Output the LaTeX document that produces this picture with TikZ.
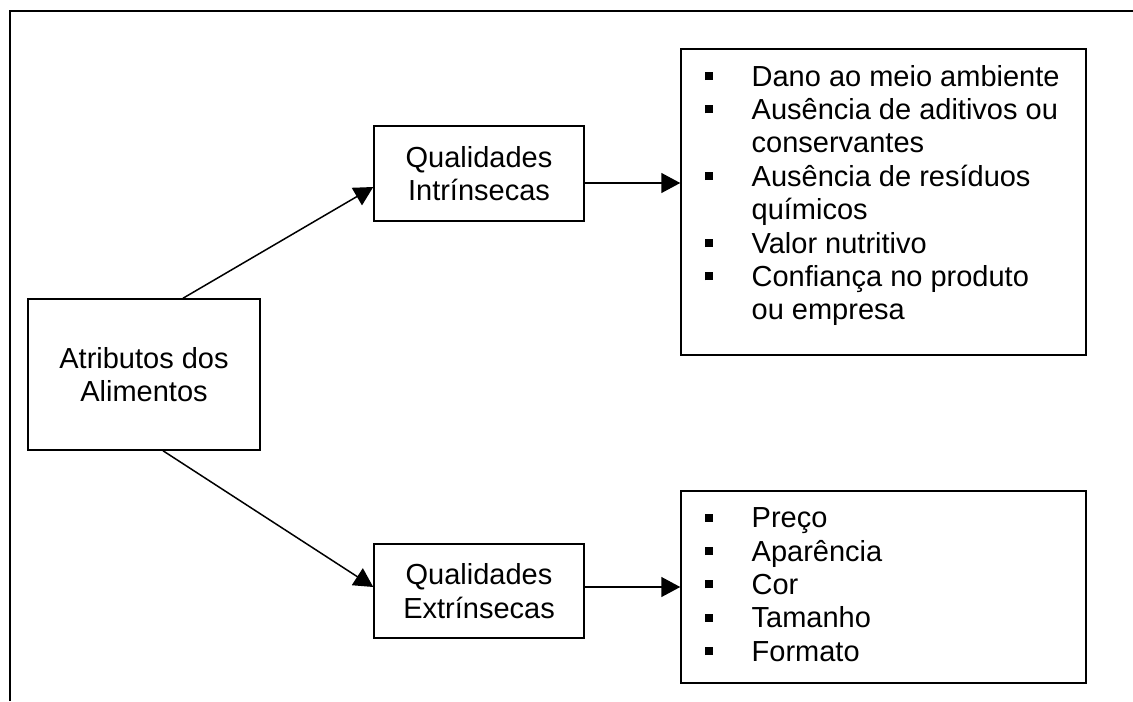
\documentclass[tikz,border=0pt]{standalone}
\usepackage{fontspec}
\setmainfont{Liberation Sans}
\usetikzlibrary{arrows.meta,calc}

\newcommand{\bul}{\rule[3pt]{4pt}{4pt}}

\begin{document}
\begin{tikzpicture}[x=0.5pt,y=-0.5pt,
    caixa/.style={draw,line width=0.75pt,align=center,inner sep=0pt,
      font=\fontsize{14.5}{16.7}\selectfont},
    lista/.style={anchor=north west,inner sep=0pt,
      font=\fontsize{14.5}{16.7}\selectfont},
    seta/.style={line width=0.75pt,-{Triangle[length=9.5pt,width=10pt]}}]
      \useasboundingbox (0,0) rectangle (1133,701);
      \draw[line width=1pt] (10,701) -- (10,11) -- (1133,11);

      \node[caixa,minimum width=116pt,minimum height=75.5pt] (atr) at (144,374.5)
        {Atributos dos\\Alimentos};
      \node[caixa,minimum width=105pt,minimum height=47.5pt] (intr) at (479,173.5)
        {Qualidades\\Intrínsecas};
      \node[caixa,minimum width=105pt,minimum height=47pt] (extr) at (479,591)
        {Qualidades\\Extrínsecas};
      \node[caixa,minimum width=202.5pt,minimum height=153pt] (lista1) at (883.5,202) {};
      \node[caixa,minimum width=202.5pt,minimum height=96pt] (lista2) at (883.5,587) {};

      \node[lista] (itens1) at ([shift={(12pt,-7pt)}]lista1.north west)
        {\begin{tabular}{@{}p{23.5pt}@{}l@{}}
          \bul & Dano ao meio ambiente\\
          \bul & Ausência de aditivos ou\\
               & conservantes\\
          \bul & Ausência de resíduos\\
               & químicos\\
          \bul & Valor nutritivo\\
          \bul & Confiança no produto\\
               & ou empresa
        \end{tabular}};
      \node[lista] (itens2) at ([shift={(12pt,-6.8pt)}]lista2.north west)
        {\begin{tabular}{@{}p{23.5pt}@{}l@{}}
          \bul & Preço\\
          \bul & Aparência\\
          \bul & Cor\\
          \bul & Tamanho\\
          \bul & Formato
        \end{tabular}};

      \draw[seta] ([xshift=19.5pt]atr.north) -- ([yshift=-6.75pt]intr.west);
      \draw[seta] ([xshift=9.5pt]atr.south) -- ([yshift=2pt]extr.west);
      \draw[seta] ([yshift=-4.75pt]intr.east) -- ([yshift=-4.75pt]intr.east -| lista1.west);
      \draw[seta] ([yshift=2pt]extr.east) -- (lista2.west);
\end{tikzpicture}
\end{document}
